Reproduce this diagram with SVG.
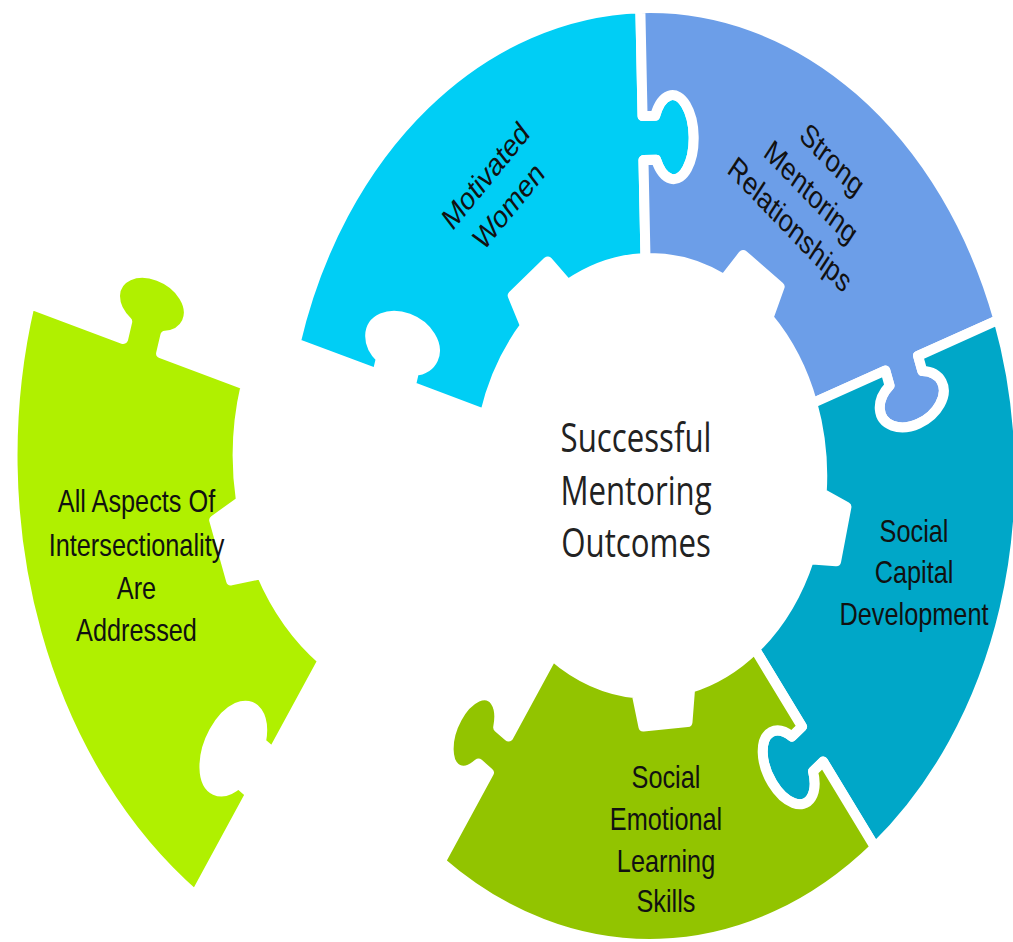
<svg xmlns="http://www.w3.org/2000/svg" xmlns:xlink="http://www.w3.org/1999/xlink" width="1013" height="942" viewBox="0 0 1013 942">
<style>
.lbl{font-family:"Liberation Sans",Arial,sans-serif;font-size:32px;fill:#111;text-anchor:middle}
.ctr{font-family:"Open Sans","Noto Sans",sans-serif;font-size:39.5px;fill:#222;text-anchor:middle}
</style>
<defs>
<path id="piece" stroke="#fff" stroke-width="10" stroke-linejoin="round" vector-effect="non-scaling-stroke" d="M 378.62 -275.08 A 468 468 0 0 1 378.62 275.08 L 291.25 211.60 L 281.84 224.55 A 26 42 126 1 1 246.24 198.68 L 255.65 185.74 L 176.37 128.14 A 218 218 0 0 0 215.33 34 L 249 28 L 249 -28 L 215.33 -34 A 218 218 0 0 0 176.37 -128.14 L 255.65 -185.74 L 265.05 -172.80 A 26 42 54 1 0 300.65 -198.66 L 291.25 -211.60 Z"/>
<path id="piece2" stroke="#fff" stroke-width="10" stroke-linejoin="round" vector-effect="non-scaling-stroke" d="M 378.62 -275.08 A 468 468 0 0 1 378.62 275.08 L 291.25 211.60 L 281.84 224.55 A 26 42 126 1 1 246.24 198.68 L 255.65 185.74 L 176.37 128.14 A 218 218 0 0 0 216.82 22.68 L 250.12 14.93 L 247.19 -40.99 L 213.26 -45.22 A 218 218 0 0 0 176.37 -128.14 L 255.65 -185.74 L 265.05 -172.80 A 26 42 54 1 0 300.65 -198.66 L 291.25 -211.60 Z"/>
</defs>
<rect width="1013" height="942" fill="#fff"/>
<g id="ring" transform="translate(650,476) scale(0.79,1)">
  <g id="node-motivated-women">
    <use xlink:href="#piece" fill="#00CEF5" transform="rotate(232.5)"/>
    <text class="lbl" transform="translate(-194.3,-286) rotate(-44)"><tspan x="0" y="-9">Motivated</tspan><tspan x="0" y="33">Women</tspan></text>
  </g>
  <g id="node-strong-mentoring">
    <use xlink:href="#piece" fill="#6C9EE8" transform="rotate(304.5)"/>
    <text class="lbl" transform="translate(204.4,-284.5) rotate(39.5)"><tspan x="0" y="-30.5">Strong</tspan><tspan x="0" y="11.5">Mentoring</tspan><tspan x="0" y="53.5">Relationships</tspan></text>
  </g>
  <g id="node-social-capital">
    <use xlink:href="#piece2" fill="#00A7C8" transform="rotate(16.5)"/>
    <text class="lbl"><tspan x="334.2" y="65.7">Social</tspan><tspan x="334.2" y="107.3">Capital</tspan><tspan x="334.2" y="149">Development</tspan></text>
  </g>
  <g id="node-social-emotional">
    <use xlink:href="#piece2" fill="#92C400" transform="rotate(88.5)"/>
    <text class="lbl"><tspan x="20.25" y="312.3">Social</tspan><tspan x="20.25" y="354">Emotional</tspan><tspan x="20.25" y="395.7">Learning</tspan><tspan x="20.25" y="435.7">Skills</tspan></text>
  </g>
  <g id="node-center">
    <text class="ctr"><tspan x="-17.7" y="-24">Successful</tspan><tspan x="-17.7" y="29">Mentoring</tspan><tspan x="-17.7" y="81">Outcomes</tspan></text>
  </g>
</g>
<g id="node-intersectionality">
  <use xlink:href="#piece" fill="#B0F000" transform="translate(434,455.6) scale(0.9006,1.14) rotate(160.5)"/>
  <text class="lbl" transform="translate(136.5,0) scale(0.79,1)"><tspan x="0" y="512">All Aspects Of</tspan><tspan x="0" y="556">Intersectionality</tspan><tspan x="0" y="599">Are</tspan><tspan x="0" y="641">Addressed</tspan></text>
</g>
</svg>
